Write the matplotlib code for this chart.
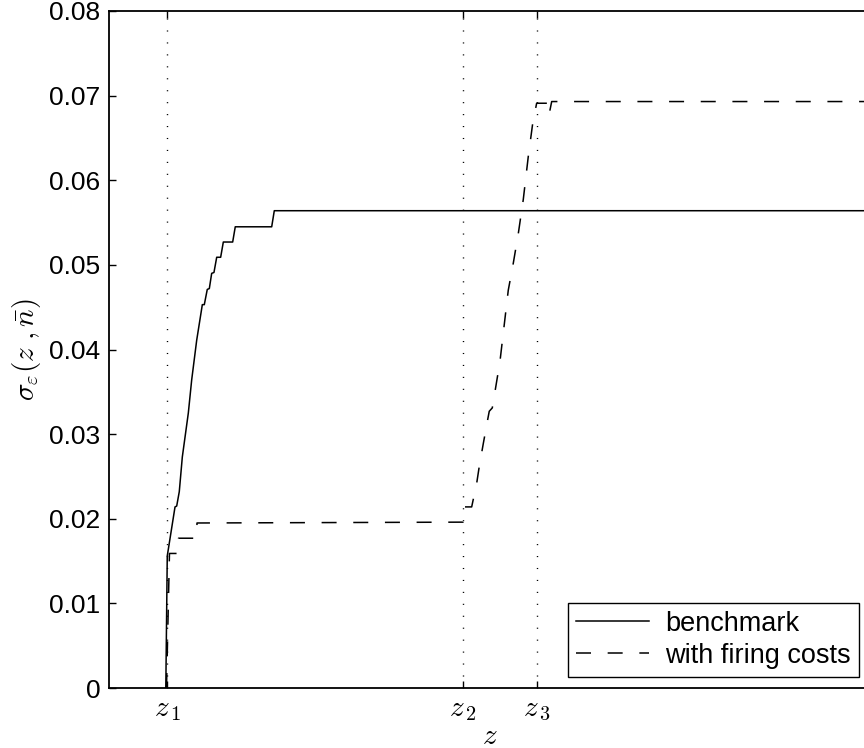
import matplotlib
matplotlib.use("Agg")
import matplotlib.pyplot as plt

plt.rcParams["font.family"] = ["Liberation Sans", "DejaVu Sans"]
plt.rcParams["mathtext.fontset"] = "cm"
plt.rcParams["lines.scale_dashes"] = False

# z positions in axis units (0..1 across the visible range)
z_ticks = [0.0762, 0.4654, 0.5626]
z_labels = [r"$z_{\,1}$", r"$z_{\,2}$", r"$z_{\,3}$"]

y_ticks = [0, 0.01, 0.02, 0.03, 0.04, 0.05, 0.06, 0.07, 0.08]
y_labels = ["0", "0.01", "0.02", "0.03", "0.04", "0.05", "0.06", "0.07", "0.08"]

# benchmark
bench_z = [0.0743, 0.0762, 0.0864, 0.0886, 0.0920, 0.0960, 0.1039, 0.1083,
           0.1149, 0.1223, 0.1249, 0.1288, 0.1315, 0.1346, 0.1376, 0.1412,
           0.1464, 0.1499, 0.1622, 0.1656, 0.2135, 0.2169, 1.0]
bench_s = [0.0, 0.0156, 0.0214, 0.0215, 0.0232, 0.0273, 0.0325, 0.0364,
           0.0411, 0.0453, 0.0453, 0.0471, 0.0472, 0.0490, 0.0491, 0.0509,
           0.0509, 0.0527, 0.0527, 0.0545, 0.0545, 0.0564, 0.0564]

# with firing costs
fire_z = [0.0752, 0.0791, 0.0907, 0.0910, 0.1149, 0.1153, 0.4650, 0.4654,
          0.4764, 0.4830, 0.4864, 0.4917, 0.4974, 0.4995, 0.5035, 0.5070,
          0.5136, 0.5245, 0.5311, 0.5377, 0.5442, 0.5508, 0.5566, 0.5618,
          0.5754, 0.5780, 0.5816, 1.0]
fire_s = [0.0, 0.0159, 0.0159, 0.0177, 0.0177, 0.0195, 0.0196, 0.0214,
          0.0214, 0.0242, 0.0262, 0.0289, 0.0317, 0.0327, 0.0331, 0.0350,
          0.0386, 0.0470, 0.0502, 0.0537, 0.0577, 0.0628, 0.0667, 0.0691,
          0.0691, 0.0677, 0.0693, 0.0693]

fig = plt.figure(figsize=(8.64, 7.48), dpi=100)
ax = fig.add_axes([0.1265, 0.0802, 0.8804, 0.9051])

for zt in z_ticks:
    ax.axvline(zt, color="black", linewidth=1.0, linestyle=(0, (0.8, 7.8)))

ax.plot(bench_z, bench_s, color="black", linewidth=1.1, label="benchmark")
ax.plot(fire_z, fire_s, color="black", linewidth=1.1,
        linestyle=(0, (10.8, 12.0)), label="with firing costs")

ax.set_xlim(0, 1)
ax.set_ylim(0, 0.08)
ax.set_xticks(z_ticks)
ax.set_xticklabels(z_labels, fontsize=21)
ax.set_yticks(y_ticks)
ax.set_yticklabels(y_labels, fontsize=19)
ax.tick_params(direction="in", length=5, width=1.0, top=True, right=False)
ax.tick_params(axis="y", pad=6.5)
ax.tick_params(axis="x", pad=5)
for sp in ax.spines.values():
    sp.set_linewidth(1.3)

ax.set_xlabel(r"$z$", fontsize=21, labelpad=-1)
ax.set_ylabel(r"$\sigma_{\varepsilon}(z\ ,\bar{n})$", fontsize=21, labelpad=4)

leg = ax.legend(loc="lower right", bbox_to_anchor=(859 / 864, 1 - 677 / 748),
                bbox_transform=fig.transFigure, borderaxespad=0, fontsize=19.5,
                handlelength=2.7, handletextpad=0.6, labelspacing=0.22,
                borderpad=0.3, fancybox=False, framealpha=1)
leg.get_frame().set_edgecolor("black")
leg.get_frame().set_linewidth(1.0)

fig.savefig("out.png", dpi=100)
